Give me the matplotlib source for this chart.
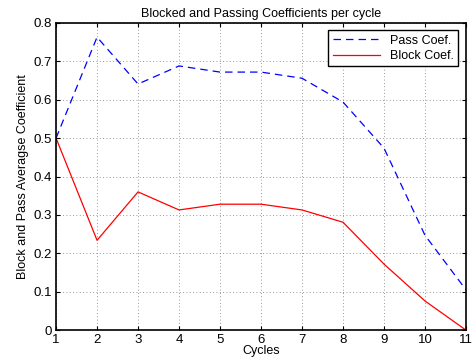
import matplotlib
matplotlib.use("Agg")
import matplotlib.pyplot as plt

cycles = [1, 2, 3, 4, 5, 6, 7, 8, 9, 10, 11]
pass_coef = [0.5, 0.763, 0.641, 0.688, 0.672, 0.672, 0.656, 0.594, 0.474, 0.247, 0.105]
block_coef = [0.5, 0.234, 0.36, 0.313, 0.328, 0.328, 0.313, 0.281, 0.172, 0.076, 0.0]

plt.rcParams["font.family"] = ["Liberation Sans", "DejaVu Sans"]
plt.rcParams["font.size"] = 9

fig = plt.figure(figsize=(4.75, 3.64), dpi=100)
ax = fig.add_axes([0.118, 0.093, 0.863, 0.844])

ax.plot(cycles, pass_coef, color="blue", linestyle=(0, (6, 4)), linewidth=0.9, label="Pass Coef.")
ax.plot(cycles, block_coef, color="red", linewidth=0.9, label="Block Coef.")

ax.set_xlim(1, 11)
ax.set_ylim(0, 0.8)
ax.set_xticks(cycles)
ax.set_yticks([0, 0.1, 0.2, 0.3, 0.4, 0.5, 0.6, 0.7, 0.8])
ax.set_yticklabels(["0", "0.1", "0.2", "0.3", "0.4", "0.5", "0.6", "0.7", "0.8"])
ax.grid(True, linestyle=(0, (1, 3)), color="#777777", linewidth=0.6)
ax.tick_params(direction="in", length=3, top=True, right=True, labelsize=9.5, pad=3)
for s in ax.spines.values():
    s.set_linewidth(1.2)

ax.set_title("Blocked and Passing Coefficients per cycle", fontsize=9, pad=4)
ax.set_xlabel("Cycles", fontsize=9, labelpad=-1)
ax.set_ylabel("Block and Pass Averagse Coefficient", fontsize=9, labelpad=3)

leg = ax.legend(loc="upper right", fontsize=9, fancybox=False, framealpha=1,
                edgecolor="black", handlelength=3.8, borderpad=0.35,
                labelspacing=0.25, borderaxespad=0.6)
leg.get_frame().set_linewidth(1.0)

fig.savefig("out.png", dpi=100)
